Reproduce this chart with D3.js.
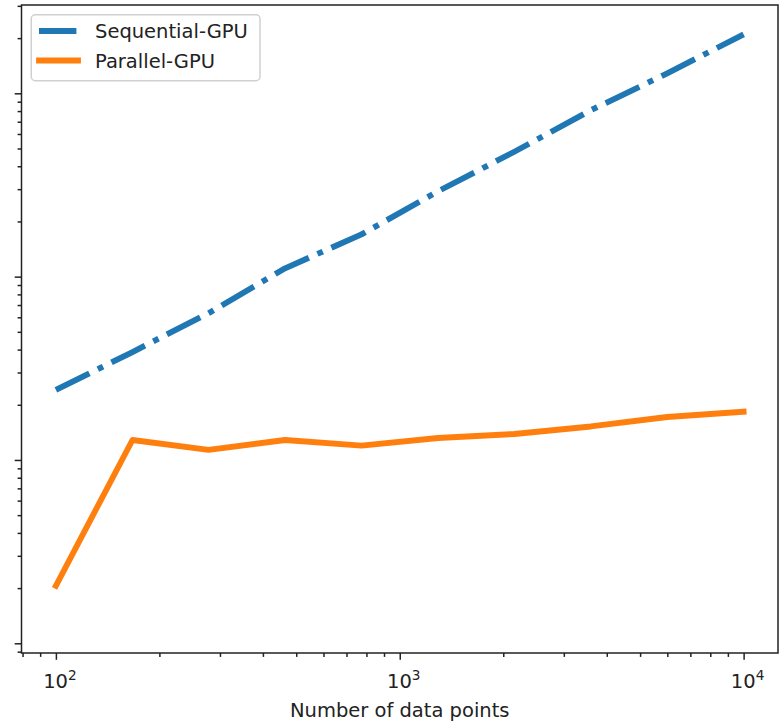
<!DOCTYPE html>
<html>
<head>
<meta charset="utf-8">
<script src="https://cdn.jsdelivr.net/npm/d3@7"></script>
<style>
  html, body { margin: 0; padding: 0; background: #fff; }
  svg { display: block; font-family: "DejaVu Sans", sans-serif; }
</style>
</head>
<body>
<svg id="chart" width="782" height="723"></svg>
<script>
// ---- data ----
const xValues = [100, 167, 278, 464, 774, 1292, 2154, 3594, 5995, 10000];
const sequentialGPU = [0.241, 0.388, 0.632, 1.11, 1.70, 2.92, 4.80, 8.08, 12.85, 20.97];
const parallelGPU = [0.0206, 0.1285, 0.1134, 0.1285, 0.1197, 0.1318, 0.1386, 0.1523, 0.1715, 0.1833];
const seriesNames = ["Sequential-GPU", "Parallel-GPU"];
const seriesColors = ["#1f77b4", "#ff7f0e"];
const xTickLabels = [{v: 100, base: "10", exp: "2"}, {v: 1000, base: "10", exp: "3"}, {v: 10000, base: "10", exp: "4"}];
const xLimits = [Math.pow(10, 1.9), Math.pow(10, 4.1)];
const yLimits = [Math.pow(10, -2.053), Math.pow(10, 1.4817)];
const xLabel = "Number of data points";

(function () {
  // ---- layout ----
  const svg = d3.select("#chart");
  const mLeft = 21.5, mRight = 778, mTop = 5, mBottom = 653;
  const fs = 19.5;
  const x = d3.scaleLog().domain(xLimits).range([mLeft, mRight]);
  const y = d3.scaleLog().domain(yLimits).range([mBottom, mTop]);

  const isMajor = v => Math.abs(Math.log10(v) - Math.round(Math.log10(v))) < 1e-9;

  // x ticks
  const xAll = x.ticks();
  const xMinor = xAll.filter(v => !isMajor(v));
  const xMajor = xAll.filter(isMajor);
  const gxMinor = svg.append("g").attr("transform", `translate(0,${mBottom})`)
    .call(d3.axisBottom(x).tickValues(xMinor).tickSize(3.9).tickFormat(""));
  const gxMajor = svg.append("g").attr("transform", `translate(0,${mBottom})`)
    .call(d3.axisBottom(x).tickValues(xMajor).tickSize(6.8).tickFormat(""));

  // y ticks
  const yAll = y.ticks();
  const yMinor = yAll.filter(v => !isMajor(v));
  const yMajor = yAll.filter(isMajor);
  const gyMinor = svg.append("g").attr("transform", `translate(${mLeft},0)`)
    .call(d3.axisLeft(y).tickValues(yMinor).tickSize(3.9).tickFormat(""));
  const gyMajor = svg.append("g").attr("transform", `translate(${mLeft},0)`)
    .call(d3.axisLeft(y).tickValues(yMajor).tickSize(6.8).tickFormat(""));

  [gxMinor, gxMajor, gyMinor, gyMajor].forEach(g => {
    g.select(".domain").remove();
    g.selectAll(".tick line").attr("stroke", "#222").attr("stroke-width", 1.5);
  });

  // x tick labels with superscripts
  xTickLabels.forEach(t => {
    const txt = svg.append("text")
      .attr("x", x(t.v) + 4)
      .attr("y", 688)
      .attr("text-anchor", "middle")
      .attr("font-size", fs)
      .attr("fill", "#222");
    txt.append("tspan").text(t.base);
    txt.append("tspan").attr("dy", -8).attr("font-size", fs * 0.7).text(t.exp);
  });

  // x label
  svg.append("text")
    .attr("x", (mLeft + mRight) / 2)
    .attr("y", 717)
    .attr("text-anchor", "middle")
    .attr("font-size", fs)
    .attr("fill", "#222")
    .text(xLabel);

  // lines
  const line = d3.line().x(d => x(d[0])).y(d => y(d[1]));
  const seqData = xValues.map((v, i) => [v, sequentialGPU[i]]);
  const parData = xValues.map((v, i) => [v, parallelGPU[i]]);
  const plot = svg.append("g");
  plot.append("path").datum(seqData)
    .attr("d", line).attr("fill", "none")
    .attr("stroke", seriesColors[0]).attr("stroke-width", 5.85)
    .attr("stroke-dasharray", "37.4,9.4,5.85,9.4")
    .attr("stroke-linecap", "butt").attr("stroke-linejoin", "round");
  plot.append("path").datum(parData)
    .attr("d", line).attr("fill", "none")
    .attr("stroke", seriesColors[1]).attr("stroke-width", 5.85)
    .attr("stroke-linecap", "square").attr("stroke-linejoin", "round");

  // spines
  svg.append("rect")
    .attr("x", mLeft).attr("y", mTop)
    .attr("width", mRight - mLeft).attr("height", mBottom - mTop)
    .attr("fill", "none").attr("stroke", "#222").attr("stroke-width", 1.5);

  // legend
  const lg = svg.append("g");
  lg.append("rect")
    .attr("x", 31.25).attr("y", 14.75).attr("width", 228.75).attr("height", 66)
    .attr("rx", 4).attr("fill", "#fff").attr("fill-opacity", 0.8)
    .attr("stroke", "#d0d0d0").attr("stroke-width", 1.5);
  const rowsY = [31, 60.5];
  seriesNames.forEach((name, i) => {
    const l = lg.append("line")
      .attr("x1", 39).attr("x2", 78).attr("y1", rowsY[i]).attr("y2", rowsY[i])
      .attr("stroke", seriesColors[i]).attr("stroke-width", 5.85);
    if (i === 0) l.attr("stroke-dasharray", "37.4,9.4,5.85,9.4").attr("stroke-linecap", "butt");
    else l.attr("stroke-linecap", "square");
    lg.append("text")
      .attr("x", 95).attr("y", rowsY[i] + 7)
      .attr("font-size", fs).attr("fill", "#222")
      .text(name);
  });
})();
</script>
</body>
</html>
